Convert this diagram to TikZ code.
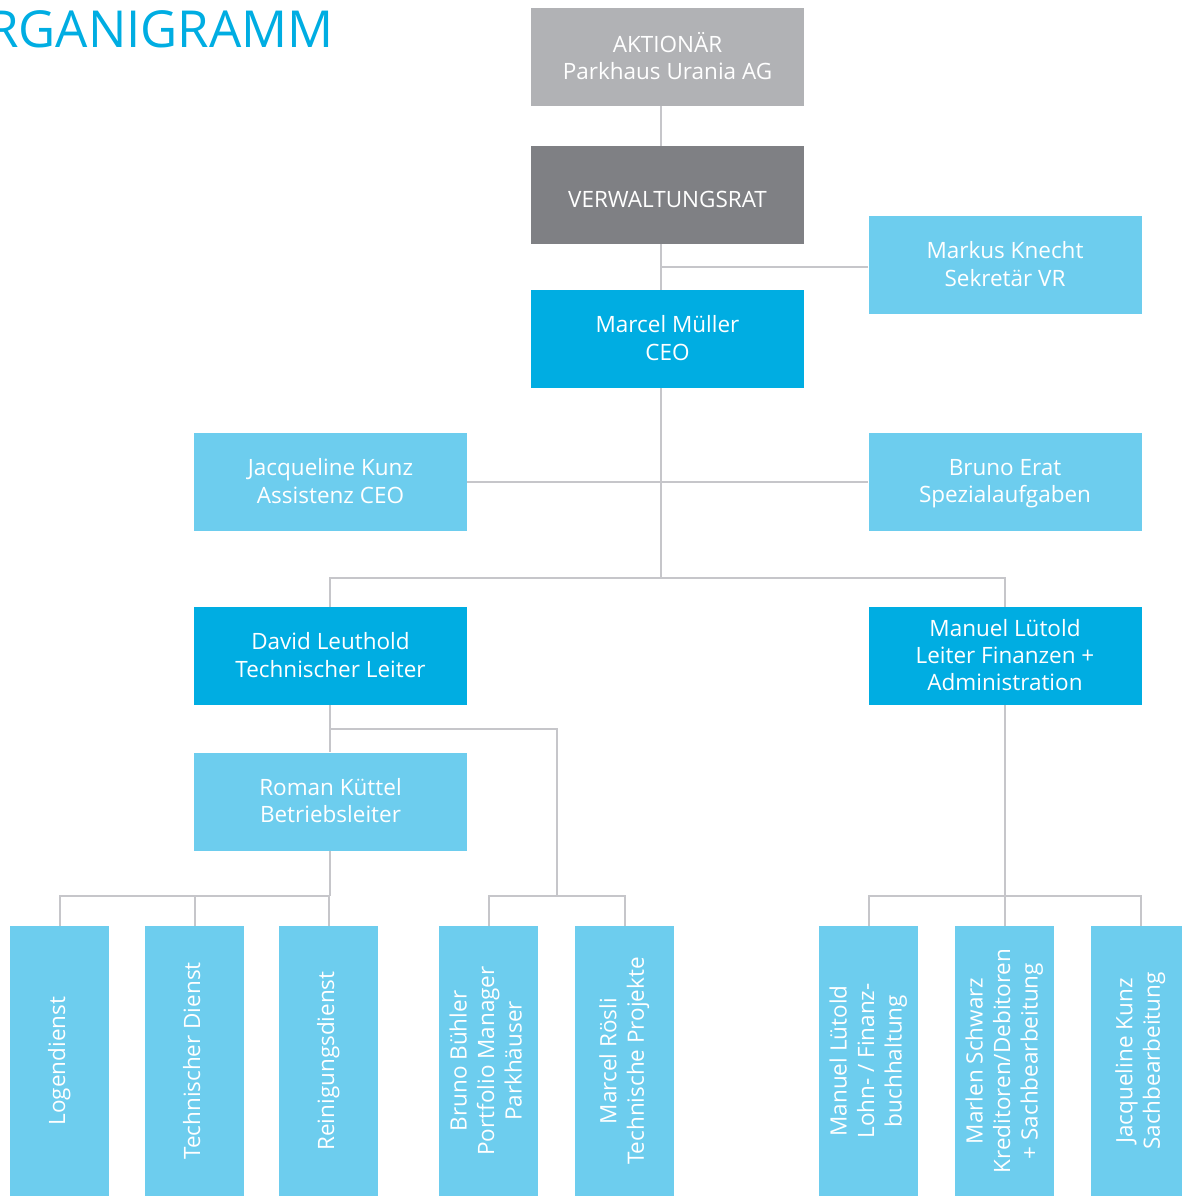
\documentclass[tikz,border=0pt]{standalone}
\usepackage{fontspec}
\setmainfont{Open Sans}
\definecolor{lblue}{HTML}{6DCDEE}
\definecolor{dblue}{HTML}{00ADE2}
\definecolor{gone}{HTML}{B1B2B5}
\definecolor{gtwo}{HTML}{7F8084}
\definecolor{linec}{HTML}{C6C6CA}
\newcommand{\vtext}[1]{\rotatebox{90}{\begin{tabular}{@{}c@{}}#1\end{tabular}}}
\newcommand{\topstrut}{\rule{0pt}{26pt}}
\begin{document}
\begin{tikzpicture}[x=1pt,y=-1pt,
  box/.style={minimum width=273, minimum height=98, inner sep=0, align=center,
    text=white, font=\fontsize{22.5}{27.3}\selectfont, text depth=2pt,
    execute at begin node=\topstrut},
  lbox/.style={box, fill=lblue},
  bbox/.style={box, fill=dblue},
  vbox/.style={fill=lblue, minimum width=99, minimum height=270, inner sep=0,
    text=white, font=\fontsize{22.5}{27.5}\selectfont},
  conn/.style={draw=linec, line width=2}]
\path[use as bounding box] (0,0) rectangle (1181,1196);
% title
\node[anchor=base east, inner sep=0, text=dblue, font=\fontsize{51}{56}\selectfont] (title) at (334,48) {ORGANIGRAMM};
% main boxes
\node[box, fill=gone] (akt) at (667.5,57) {AKTIONÄR\\Parkhaus Urania AG};
\node[box, fill=gtwo] (vr) at (667.5,195) {VERWALTUNGSRAT};
\node[lbox] (knecht) at (1005,265) {Markus Knecht\\Sekretär VR};
\node[bbox] (ceo) at (667.5,339) {Marcel Müller\\CEO};
\node[lbox] (kunz) at (330.5,482) {Jacqueline Kunz\\Assistenz CEO};
\node[lbox] (erat) at (1005,482) {Bruno Erat\\Spezialaufgaben};
\node[bbox] (leut) at (330.5,656) {David Leuthold\\Technischer Leiter};
\node[bbox] (luet) at (1005,656) {Manuel Lütold\\Leiter Finanzen +\\Administration};
\node[lbox] (kuet) at (330.5,801.5) {Roman Küttel\\Betriebsleiter};
% bottom boxes
\node[vbox] (log) at (59.5,1061) {\vtext{Logendienst}};
\node[vbox] (tech) at (194.5,1061) {\vtext{Technischer Dienst}};
\node[vbox] (rein) at (328.5,1061) {\vtext{Reinigungsdienst}};
\node[vbox] (bb) at (488.5,1061) {\vtext{Bruno Bühler\\Portfolio Manager\\Parkhäuser}};
\node[vbox] (rs) at (624.5,1061) {\vtext{Marcel Rösli\\Technische Projekte}};
\node[vbox] (ml) at (868.5,1061) {\vtext{Manuel Lütold\\Lohn- / Finanz-\\buchhaltung}};
\node[vbox] (ms) at (1004.5,1061) {\vtext{Marlen Schwarz\\Kreditoren/Debitoren\\+ Sachbearbeitung}};
\node[vbox] (jk) at (1140.5,1061) {\vtext{Jacqueline Kunz\\Sachbearbeitung}};
% helper coordinates
\coordinate (sx) at (661,0);
\coordinate (jA) at (661,578);
\coordinate (jB) at (330,729);
\coordinate (jC) at (557,896);
\coordinate (row) at (0,896);
% connectors
\draw[conn] (akt.south -| sx) -- (vr.north -| sx);
\draw[conn] (vr.south -| sx) -- (ceo.north -| sx);
\draw[conn] (knecht.west |- 0,267) -- (sx |- 0,267);
\draw[conn] (ceo.south -| sx) -- (jA);
\draw[conn] (kunz.east) -- (erat.west);
\draw[conn] (leut.north -| jB) |- (jA) -| (luet.north);
\draw[conn] (leut.south -| jB) -- (kuet.north -| jB);
\draw[conn] (jB) -| (jC);
\draw[conn] (bb.north) -- (bb.north |- row) -- (rs.north |- row) -- (rs.north);
\draw[conn] (kuet.south -| jB) -- (jB |- row);
\draw[conn] (log.north) -- (log.north |- row) -- (rein.north |- row) -- (rein.north);
\draw[conn] (tech.north) -- (tech.north |- row);
\draw[conn] (luet.south) -- (luet.south |- ms.north);
\draw[conn] (ml.north) -- (ml.north |- row) -- (jk.north |- row) -- (jk.north);
\end{tikzpicture}
\end{document}
